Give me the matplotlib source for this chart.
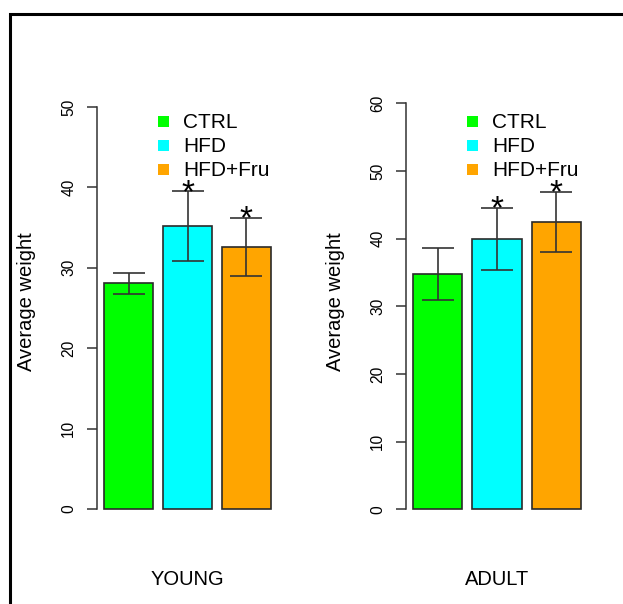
import matplotlib
matplotlib.use("Agg")
import matplotlib.pyplot as plt
from matplotlib.patches import Rectangle

plt.rcParams['font.family'] = ['Liberation Sans', 'DejaVu Sans']

# weights per diet group, mean and sd
groups = ['YOUNG', 'ADULT']
diets = ['CTRL', 'HFD', 'HFD+Fru']
colors = ['#00FF00', '#00FFFF', '#FFA500']

young_mean = [28.1, 35.2, 32.6]
young_sd = [1.3, 4.3, 3.6]
young_star = [False, True, True]

adult_mean = [34.8, 40.0, 42.5]
adult_sd = [3.8, 4.6, 4.4]
adult_star = [False, True, True]

young_ticks = [0, 10, 20, 30, 40, 50]
adult_ticks = [0, 10, 20, 30, 40, 50, 60]

W, H = 623, 604
fig = plt.figure(figsize=(W / 100, H / 100), dpi=100)


def px(x, y):
    return x / W, 1 - y / H


def rect(x0, y0, x1, y1):
    return [x0 / W, 1 - y1 / H, (x1 - x0) / W, (y1 - y0) / H]


# outer frame (only top and left edges are inside the picture)
fig.add_artist(Rectangle(px(10, 900), 1000 / W, (900 - 14) / H, transform=fig.transFigure,
                         fill=False, ec='black', lw=2.2, clip_on=False))

edge = '#2a2a2a'


def panel(box, ylim, ticks, means, sds, stars, name, x0):
    ax = fig.add_axes(rect(*box))
    xs = [0.7, 1.9, 3.1]
    ax.bar(xs, means, width=1.0, color=colors, edgecolor=edge, linewidth=1.2)
    ax.errorbar(xs, means, yerr=sds, fmt='none', ecolor='#333333', elinewidth=1.2,
                capsize=11.5, capthick=1.2)
    for x, m, s, st in zip(xs, means, sds, stars):
        if st:
            ax.annotate('*', xy=(x, m + s), xytext=(0, -7.5), textcoords='offset points',
                        ha='center', va='baseline', fontsize=24)
    ax.set_xlim(0.064, 3.736)
    ax.set_ylim(*ylim)
    for s in ['top', 'right', 'bottom']:
        ax.spines[s].set_visible(False)
    ax.spines['left'].set_bounds(ticks[0], ticks[-1])
    ax.spines['left'].set_color('#333333')
    ax.spines['left'].set_linewidth(1.1)
    ax.set_xticks([])
    ax.set_yticks(ticks)
    ax.tick_params(axis='y', length=7.2, width=1.1, color='#333333', labelsize=11.2,
                   labelrotation=90, pad=8)
    for lab in ax.get_yticklabels():
        lab.set_verticalalignment('center')

    # legend drawn as filled squares with labels
    for i, (d, c) in enumerate(zip(diets, colors)):
        yc = 121.5 + 23.8 * i
        fig.add_artist(Rectangle(px(x0 + 60.7, yc + 5.5), 11 / W, 11 / H,
                                 transform=fig.transFigure, color=c, lw=0))
        fig.text(*px(x0 + 85.7, yc + 1.5), d, fontsize=15, ha='left', va='center')

    fig.text(*px(x0 - 70.5, 302), 'Average weight', fontsize=14.5, rotation=90,
             ha='center', va='center')
    fig.text(*px((box[0] + box[2]) / 2, 585), name, fontsize=14.5, ha='center', va='baseline')
    return ax


panel((97.3, 90.9, 277.7, 525.1), (-2, 52), young_ticks, young_mean, young_sd,
      young_star, groups[0], 97.3)
panel((406.3, 87.1, 587.7, 525.5), (-2.4, 62.4), adult_ticks, adult_mean, adult_sd,
      adult_star, groups[1], 406.3)

fig.savefig('out.png', dpi=100)
